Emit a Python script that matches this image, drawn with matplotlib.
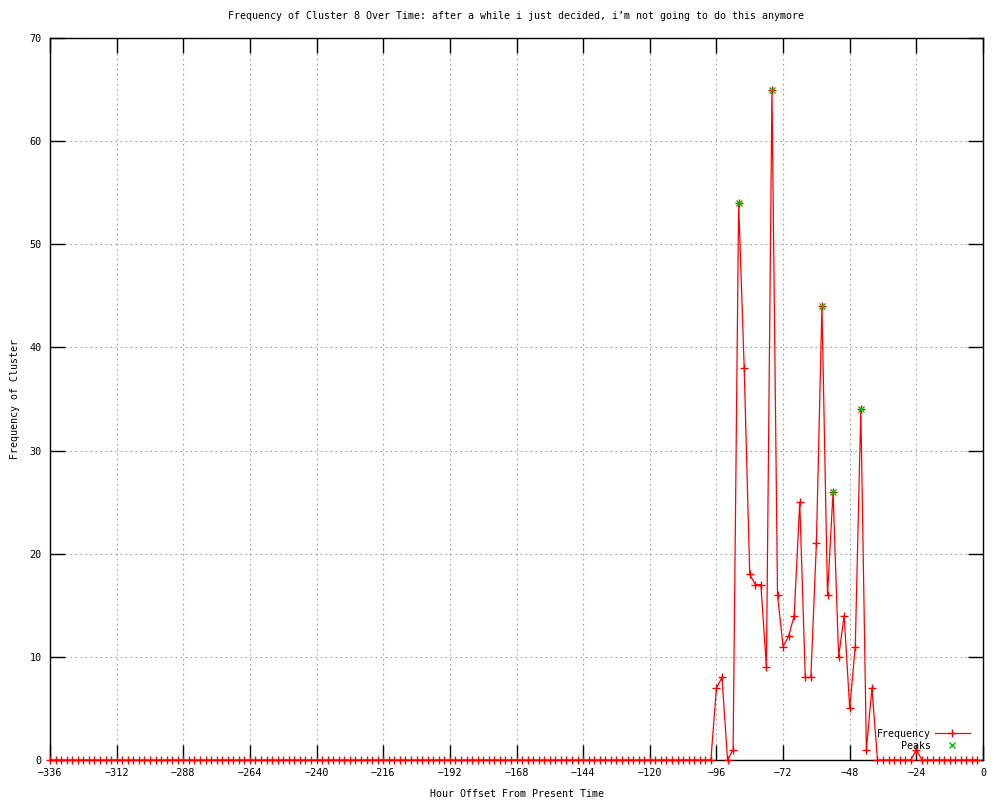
"""
Frequency of cluster 8 over time, gnuplot-style line chart.
"""
import numpy as np
import matplotlib
matplotlib.use("Agg")
import matplotlib.pyplot as plt

# hours before present, every 2 hours
hours = np.arange(-336, 0, 2)

# non-zero counts, keyed by hour offset
counts = {
    -96: 7, -94: 8, -92: 0, -90: 1, -88: 54, -86: 38, -84: 18, -82: 17,
    -80: 17, -78: 9, -76: 65, -74: 16, -72: 11, -70: 12, -68: 14, -66: 25,
    -64: 8, -62: 8, -60: 21, -58: 44, -56: 16, -54: 26, -52: 10, -50: 14,
    -48: 5, -46: 11, -44: 34, -42: 1, -40: 7, -24: 1,
}
freq = np.array([counts.get(h, 0) for h in hours])

peak_hours = [-88, -76, -58, -54, -44]
peak_vals = [counts[h] for h in peak_hours]

title = ("Frequency of Cluster 8 Over Time: after a while i just decided, "
         "i\u2019m not going to do this anymore")

plt.rcParams['font.family'] = ['DejaVu Sans Mono']
plt.rcParams['font.size'] = 7

fig = plt.figure(figsize=(10, 8), dpi=100)
ax = fig.add_axes([0.05, 0.05, 0.933, 0.9025])

ax.plot(hours, freq, color="red", lw=0.9, marker="+", markersize=6,
        markeredgewidth=1, label="Frequency", clip_on=False, zorder=3)
ax.plot(peak_hours, peak_vals, ls="none", marker="x", color="#00c000",
        markersize=5, markeredgewidth=1, label="    Peaks", zorder=4)

ax.set_xlim(-336, 0)
ax.set_ylim(0, 70)
ax.set_xticks(np.arange(-336, 1, 24))
ax.set_yticks(np.arange(0, 71, 10))
ax.tick_params(direction="in", length=11, width=1, top=True, right=True,
               labelsize=7.3, pad=6)
ax.grid(True, color="#a0a0a0", ls=(0, (1.5, 3)), lw=0.8)
for s in ax.spines.values():
    s.set_linewidth(1)

ax.set_title(title, fontsize=7.2, pad=14)
ax.set_xlabel("Hour Offset From Present Time", fontsize=7.2, labelpad=8)
ax.set_ylabel("Frequency of Cluster", fontsize=7.2, labelpad=7)

ax.legend(loc="lower right", bbox_to_anchor=(0.99, 0.007), frameon=False,
          markerfirst=False, handlelength=3.5, borderaxespad=0.0,
          labelspacing=0.2, handletextpad=0.4, fontsize=7.2)

fig.savefig("out.png", dpi=100)
